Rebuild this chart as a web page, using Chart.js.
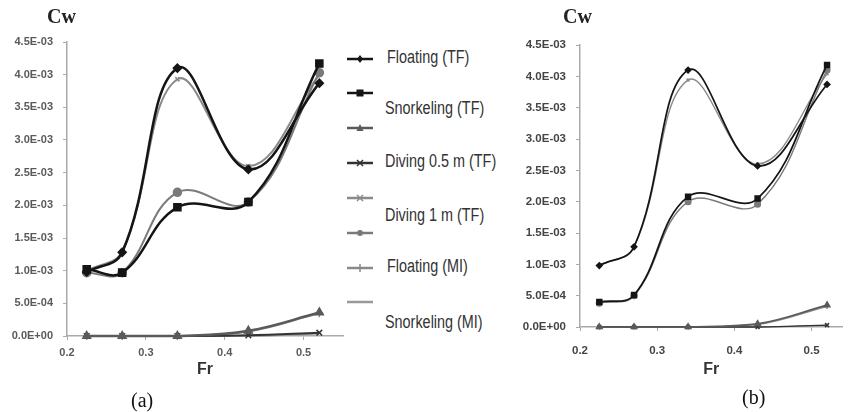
<!DOCTYPE html>
<html>
<head>
<meta charset="utf-8">
<script src="https://cdn.jsdelivr.net/npm/chart.js@4/dist/chart.umd.min.js"></script>
<style>
body { margin: 0; background: #fff; width: 848px; height: 412px; position: relative; overflow: hidden; }
.wrap { position: absolute; top: 0; }
.cw { position: absolute; font: bold 20px "Liberation Serif", "Times New Roman", serif; color: #222; line-height: 24px; }
.cap { position: absolute; font: 20px "Liberation Serif", "Times New Roman", serif; color: #111; line-height: 24px; }
.lgm { position: absolute; left: 346px; width: 28px; height: 12px; }
.lgt { position: absolute; font: 18px "Liberation Sans", Arial, sans-serif; color: #333; line-height: 22px; white-space: nowrap; transform: scaleX(0.8); transform-origin: 0 50%; }
</style>
</head>
<body>
<div class="wrap" style="left:0"><canvas id="chart-a" width="350" height="390"></canvas></div>
<div class="wrap" style="left:500px"><canvas id="chart-b" width="348" height="390"></canvas></div>
<div class="cw" style="left:47px;top:4px">Cw</div>
<div class="cw" style="left:563px;top:4px">Cw</div>
<div class="cap" style="left:131px;top:388px">(a)</div>
<div class="cap" style="left:742px;top:385px">(b)</div>
<div id="legend"></div>
<script>
// Froude numbers and tick values
const fr = [0.225, 0.27, 0.34, 0.43, 0.52];
const frTicks = [0.2, 0.3, 0.4, 0.5];
const cwTicks = [0, 0.0005, 0.001, 0.0015, 0.002, 0.0025, 0.003, 0.0035, 0.004, 0.0045];

const seriesNames = ["Floating (TF)", "Snorkeling (TF)", "Diving 0.5 m (TF)", "Diving 1 m (TF)",
  "Floating (MI)", "Snorkeling (MI)", "Diving 0.5 m (MI)", "Diving 1 m (MI)"];
const legendLabels = ["Floating (TF)", "Snorkeling (TF)", "Diving 0.5 m (TF)", "Diving 1 m (TF)", "Floating (MI)", "Snorkeling (MI)"];

// panel (a)
const aFloatTF = [0.00098, 0.00128, 0.00410, 0.00255, 0.00387];
const aSnorkTF = [0.00102, 0.00097, 0.00197, 0.00205, 0.00417];
const aDive05TF = [0, 0, 0, 0.00008, 0.00036];
const aDive1TF = [0, 0, 0, 0.00001, 0.00005];
const aFloatMI = [0.00100, 0.00130, 0.00393, 0.00260, 0.00400];
const aSnorkMI = [0.00097, 0.00097, 0.00220, 0.00205, 0.00403];
const aDive05MI = [0, 0, 0, 0.00007, 0.00035];
const aDive1MI = [0, 0, 0, 0, 0.00004];

// panel (b)
const bFloatTF = [0.00098, 0.00128, 0.00410, 0.00257, 0.00387];
const bSnorkTF = [0.00040, 0.00051, 0.00208, 0.00205, 0.00418];
const bDive05TF = [0, 0, 0, 0.00005, 0.00035];
const bDive1TF = [0, 0, 0, 0, 0.00003];
const bFloatMI = [0.00098, 0.00128, 0.00394, 0.00260, 0.00404];
const bSnorkMI = [0.00038, 0.00050, 0.00200, 0.00196, 0.00410];
const bDive05MI = [0, 0, 0, 0.00004, 0.00033];
const bDive1MI = [0, 0, 0, 0, 0.00003];

const styles = [
  { color: "#151515", shape: "rectRot", r: 4, w: 2.5, order: 1 },
  { color: "#151515", shape: "rect", r: 5, w: 2.5, order: 2 },
  { color: "#5a5a5a", shape: "triangle", r: 4.5, w: 2.5, order: 0 },
  { color: "#333333", shape: "crossRot", r: 4, w: 2, order: 4 },
  { color: "#8a8a8a", shape: "crossRot", r: 3, w: 2, order: 5 },
  { color: "#7a7a7a", shape: "circle", r: 4, w: 2, order: 3 },
  { color: "#8a8a8a", shape: "cross", r: 4, w: 2, order: 6 },
  { color: "#999999", shape: false, r: 0, w: 2, order: 7 }
];

function fmtE(v) {
  const p = v.toExponential(1).split("e");
  const e = parseInt(p[1], 10);
  return p[0] + "E" + (e < 0 ? "-" : "+") + String(Math.abs(e)).padStart(2, "0");
}

function sets(list, scale) {
  return list.map((vals, i) => ({
    label: seriesNames[i],
    data: fr.map((x, j) => ({ x: x, y: vals[j] })),
    borderColor: styles[i].color,
    backgroundColor: styles[i].color,
    borderWidth: styles[i].w * scale,
    pointStyle: styles[i].shape,
    pointRadius: styles[i].r * scale,
    pointBorderWidth: 1.5,
    tension: 0.4,
    clip: false,
    order: styles[i].order
  }));
}

function makeChart(id, datasets, o) {
  return new Chart(document.getElementById(id), {
    type: "line",
    data: { datasets: datasets },
    options: {
      responsive: false,
      animation: false,
      layout: { padding: { top: o.top, right: o.right, bottom: 11, left: 0 } },
      plugins: { legend: { display: false }, tooltip: { enabled: false } },
      scales: {
        x: {
          type: "linear", min: 0.2, max: o.xMax,
          afterBuildTicks: s => { s.ticks = frTicks.map(v => ({ value: v })); },
          afterFit: s => { s.height = o.xh; },
          grid: { drawOnChartArea: false, tickLength: 4, color: "#aaa" },
          border: { color: "#aaa", width: 1.5 },
          ticks: { padding: o.xpad, color: o.tickColor, font: { family: "Liberation Sans", size: o.fs, weight: "bold" }, callback: v => v.toFixed(1), maxRotation: 0 },
          title: { display: true, text: "Fr", color: "#333", font: { family: "Liberation Sans", size: 16, weight: "bold" }, padding: 0 }
        },
        y: {
          min: 0, max: 0.0045,
          afterBuildTicks: s => { s.ticks = cwTicks.map(v => ({ value: v })); },
          afterFit: s => { s.width = o.yw; },
          grid: { drawOnChartArea: false, tickLength: 4, color: "#aaa" },
          border: { color: "#aaa", width: 1.5 },
          ticks: { padding: o.ypad, color: o.tickColor, font: { family: "Liberation Sans", size: o.fs, weight: "bold" }, callback: v => fmtE(v) }
        }
      }
    }
  });
}

makeChart("chart-a", sets([aFloatTF, aSnorkTF, aDive05TF, aDive1TF, aFloatMI, aSnorkMI, aDive05MI, aDive1MI], 1),
  { top: 42, right: 7, xMax: 0.55, xh: 43, yw: 67, xpad: 6, ypad: 10, fs: 11, tickColor: "#5a5a5a" });
makeChart("chart-b", sets([bFloatTF, bSnorkTF, bDive05TF, bDive1TF, bFloatMI, bSnorkMI, bDive05MI, bDive1MI], 0.7),
  { top: 45, right: 2, xMax: 0.54, xh: 52, yw: 80, xpad: 13, ypad: 10, fs: 11.5, tickColor: "#444" });

// legend (markers and labels sit at different rows, as in the figure)
const rowY = [57, 91, 126, 161, 196, 231, 266, 300];
const labelPos = [[387, 57], [385, 108], [385, 161], [385, 215], [387, 266], [385, 322]];

function shapeSvg(st) {
  const c = st.color, cx = 14, cy = 6;
  let m = "";
  if (st.shape === "rectRot") m = `<polygon points="${cx},2 ${cx + 3},6 ${cx},10 ${cx - 3},6" fill="${c}"/>`;
  else if (st.shape === "rect") m = `<rect x="${cx - 3.5}" y="2.5" width="7" height="7" fill="${c}"/>`;
  else if (st.shape === "triangle") m = `<polygon points="${cx},2 ${cx + 3.5},9 ${cx - 3.5},9" fill="${c}"/>`;
  else if (st.shape === "crossRot") m = `<path d="M${cx - 3} 3 L${cx + 3} 9 M${cx + 3} 3 L${cx - 3} 9" stroke="${c}" stroke-width="1.5"/>`;
  else if (st.shape === "cross") m = `<path d="M${cx} 2 L${cx} 10" stroke="${c}" stroke-width="1.5"/>`;
  else if (st.shape === "circle") m = `<circle cx="${cx}" cy="${cy}" r="3" fill="${c}"/>`;
  return `<svg width="28" height="12"><line x1="1" y1="${cy}" x2="27" y2="${cy}" stroke="${c}" stroke-width="2.5"/>${m}</svg>`;
}

const lg = document.getElementById("legend");
styles.forEach((st, i) => {
  const d = document.createElement("div");
  d.className = "lgm";
  d.style.top = (rowY[i] - 6) + "px";
  d.innerHTML = shapeSvg(st);
  lg.appendChild(d);
});
legendLabels.forEach((t, i) => {
  const d = document.createElement("div");
  d.className = "lgt";
  d.style.left = labelPos[i][0] + "px";
  d.style.top = (labelPos[i][1] - 11) + "px";
  d.textContent = t;
  lg.appendChild(d);
});
</script>
</body>
</html>
